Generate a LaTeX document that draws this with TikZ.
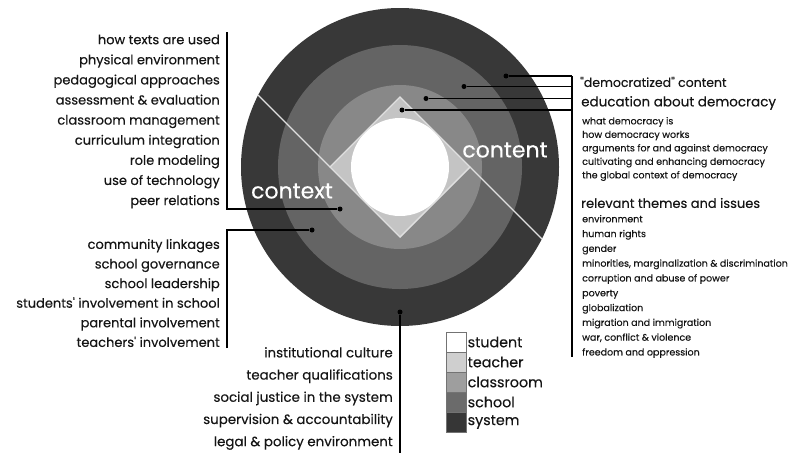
\documentclass[tikz,border=0pt]{standalone}
\usepackage{fontspec}
\setmainfont{Poppins}[FakeBold=0.3]
\usepackage{tikz}
\usetikzlibrary{positioning}
\definecolor{sysgray}{HTML}{383838}
\definecolor{schgray}{HTML}{646464}
\definecolor{clsgray}{HTML}{888888}
\definecolor{tchgray}{HTML}{C4C4C4}
\definecolor{linegray}{HTML}{E0E0E0}
\definecolor{inkgray}{HTML}{151515}

\begin{document}
\begin{tikzpicture}[x=1pt, y=-1pt,
  dot/.style = {circle, fill=black, inner sep=0pt, minimum size=5pt},
  lead/.style = {draw=black, line width=1.1pt},
  divider/.style = {draw=linegray, line width=1.4pt},
  lbl/.style = {inner sep=0pt, text=inkgray, align=right, anchor=east},
  head/.style = {inner sep=0pt, text=inkgray, anchor=west, font=\fontsize{13.5}{15}\selectfont},
  small/.style = {inner sep=0pt, text=inkgray, align=left, anchor=west},
  ringlbl/.style = {text=white, font=\fontsize{22}{24}\selectfont},
  legbox/.style = {draw=black!55, line width=0.9pt, minimum size=20pt, inner sep=0pt, outer sep=0pt},
  legtxt/.style = {inner sep=0pt, text=inkgray, anchor=west, font=\fontsize{14.3}{17}\selectfont}]
  \useasboundingbox (0,0) rectangle (797,453);

  \coordinate (ctr) at (400,167);
  \fill[sysgray] (ctr) circle (159pt);
  \fill[schgray] (ctr) circle (122pt);
  \fill[clsgray] (ctr) circle (82pt);
  \fill[tchgray] (330,167) -- (400,97) -- (470,167) -- (400,237) -- cycle;
  \fill[white] (ctr) circle (49pt);
  \draw[divider, line join=miter] (330,167) -- (400,97) -- (470,167) -- (400,237) -- cycle;
  \draw[divider] (258,95) -- (330,167);
  \draw[divider] (470,167) -- (542,239);

  \node[ringlbl] (ctxlbl) at (292,191) {context};
  \node[ringlbl] (cntlbl) at (505,150) {content};

  \node[dot] (dcls) at (340,209) {};
  \node[dot] (dsch) at (312,230) {};
  \node[dot] (dsys) at (400,312) {};
  \node[dot] (rsys) at (506,76) {};
  \node[dot] (rsch) at (464,86.5) {};
  \node[dot] (rcls) at (426,98.5) {};
  \node[dot] (rtch) at (402,110) {};

  \coordinate (ltop) at (227,32);
  \coordinate (lbot) at (227,348);
  \coordinate (btm) at (400,453);
  \coordinate (rtop) at (572,76);
  \coordinate (rbot) at (572,357);

  \draw[lead] (ltop) |- (dcls);
  \draw[lead] (lbot) |- (dsch);
  \draw[lead] (dsys) -- (btm);
  \draw[lead] (rtop) -- (rbot);
  \draw[lead] (rsys) -- (rsys -| rtop);
  \draw[lead] (rsch) -- (rsch -| rtop);
  \draw[lead] (rcls) -- (rcls -| rtop);
  \draw[lead] (rtch) -- (rtch -| rtop);

  \node[lbl, font=\fontsize{13}{20.1}\selectfont] (clsctx) at (220,121.5)
    {how texts are used\\physical environment\\pedagogical approaches\\assessment \& evaluation\\classroom management\\curriculum integration\\role modeling\\use of technology\\peer relations};
  \node[lbl, font=\fontsize{13}{19.6}\selectfont] (schctx) at (220,293)
    {community linkages\\school governance\\school leadership\\students\textquotesingle{} involvement in school\\parental involvement\\teachers\textquotesingle{} involvement};
  \node[lbl, font=\fontsize{13.4}{22.2}\selectfont] (sysctx) at (393,398.5)
    {institutional culture\\teacher qualifications\\social justice in the system\\supervision \& accountability\\legal \& policy environment};

  \node[head, font=\fontsize{12.5}{15}\selectfont] (demc) at (580,82) {\textquotedbl democratized\textquotedbl{} content};
  \node[head] (edu) at (581,103) {education about democracy};
  \node[small, font=\fontsize{9.5}{13.5}\selectfont] (edulist) at (582,149)
    {what democracy is\\how democracy works\\arguments for and against democracy\\cultivating and enhancing democracy\\the global context of democracy};
  \node[head, font=\fontsize{13}{15}\selectfont] (themes) at (581,203) {relevant themes and issues};
  \node[small, font=\fontsize{9.5}{14.8}\selectfont] (themelist) at (582,286.5)
    {environment\\human rights\\gender\\minorities, marginalization \& discrimination\\corruption and abuse of power\\poverty\\globalization\\migration and immigration\\war, conflict \& violence\\freedom and oppression};

  \node[legbox, fill=white] (lstu) at (456,342) {};
  \node[legbox, fill=black!19, below=0pt of lstu] (ltch) {};
  \node[legbox, fill=black!38, below=0pt of ltch] (lcls) {};
  \node[legbox, fill=black!58, below=0pt of lcls] (lsch) {};
  \node[legbox, fill=black!79, below=0pt of lsch] (lsys) {};
  \node[legtxt, right=1.5pt of lstu] (tstu) {student};
  \node[legtxt, right=1.5pt of ltch] (ttch) {teacher};
  \node[legtxt, right=1.5pt of lcls] (tcls) {classroom};
  \node[legtxt, right=1.5pt of lsch] (tsch) {school};
  \node[legtxt, right=1.5pt of lsys] (tsys) {system};
\end{tikzpicture}
\end{document}
